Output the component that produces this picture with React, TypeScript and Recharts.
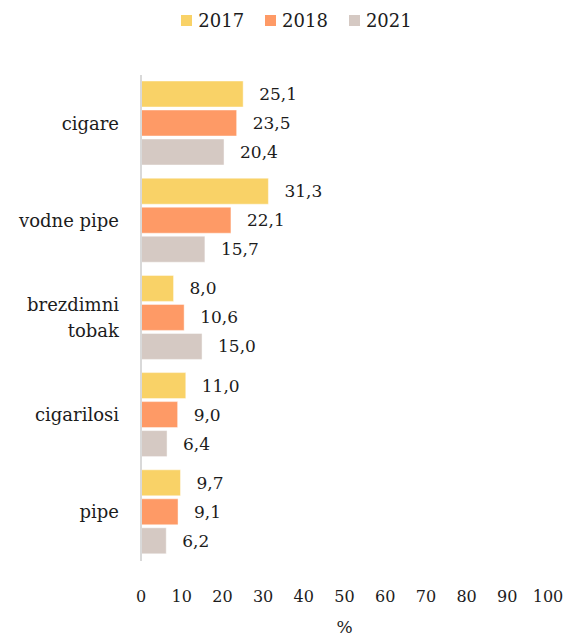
import { BarChart, Bar, XAxis, YAxis, Legend, LabelList, Label } from 'recharts';

const categories = ['cigare', 'vodne pipe', 'brezdimni tobak', 'cigarilosi', 'pipe'];
const values2017 = [25.1, 31.3, 8.0, 11.0, 9.7];
const values2018 = [23.5, 22.1, 10.6, 9.0, 9.1];
const values2021 = [20.4, 15.7, 15.0, 6.4, 6.2];
const xTicks = [0, 10, 20, 30, 40, 50, 60, 70, 80, 90, 100];

const seriesInfo = [
  { key: 'y2017', name: '2017', color: '#F9D267' },
  { key: 'y2018', name: '2018', color: '#FE9A66' },
  { key: 'y2021', name: '2021', color: '#D5C9C3' },
];

const data = categories.map((name, i) => ({
  name,
  y2017: values2017[i],
  y2018: values2018[i],
  y2021: values2021[i],
}));

const FONT = '"DejaVu Serif", "Liberation Serif", serif';
const TEXT = '#1c1c1c';

const fmt = (v: any) => Number(v).toFixed(1).replace('.', ',');

// category names, wrapped on the space for the long one
function CategoryTick({ x, y, payload }: any) {
  const label: string = payload.value;
  const lines = label === 'brezdimni tobak' ? ['brezdimni', 'tobak'] : [label];
  const lh = 26;
  const start = -((lines.length - 1) * lh) / 2;
  return (
    <text x={x} y={y} textAnchor="end" fill={TEXT} fontSize={18} fontFamily={FONT}>
      {lines.map((l, i) => (
        <tspan key={l} x={x} dy={i === 0 ? start + 6 : lh}>
          {l}
        </tspan>
      ))}
    </text>
  );
}

function LegendContent() {
  return (
    <div
      style={{
        display: 'flex',
        justifyContent: 'center',
        paddingLeft: 48,
        height: 67,
        fontFamily: FONT,
        fontSize: 18,
        color: TEXT,
      }}
    >
      {seriesInfo.map((s) => (
        <div key={s.key} style={{ display: 'flex', alignItems: 'center', height: 24, marginRight: 21 }}>
          <span style={{ width: 11, height: 11, background: s.color, marginRight: 6, display: 'inline-block' }} />
          <span>{s.name}</span>
        </div>
      ))}
    </div>
  );
}

export default function App() {
  return (
    <div style={{ position: 'absolute', left: 0, top: 0, width: 566, height: 637, background: '#fff' }}>
      <BarChart
        width={566}
        height={637}
        data={data}
        layout="vertical"
        margin={{ top: 8, right: 18, left: 0, bottom: 0 }}
        barCategoryGap={6}
        barGap={3}
      >
        <Legend
          verticalAlign="top"
          content={<LegendContent />}
          wrapperStyle={{ left: 0, width: 566 }}
        />
        <XAxis
          type="number"
          domain={[0, 100]}
          ticks={xTicks}
          axisLine={false}
          tickLine={false}
          tickSize={0}
          tickMargin={30}
          height={76}
          tick={{ fill: TEXT, fontSize: 16, fontFamily: FONT }}
        >
          <Label value="%" position="insideBottom" offset={4} fill={TEXT} fontSize={17} fontFamily={FONT} />
        </XAxis>
        <YAxis
          type="category"
          dataKey="name"
          width={141}
          tickLine={false}
          tickSize={0}
          tickMargin={22}
          axisLine={{ stroke: '#d9d9d9', strokeWidth: 2 }}
          tick={<CategoryTick />}
        />
        {seriesInfo.map((s) => (
          <Bar
            key={s.key}
            dataKey={s.key}
            name={s.name}
            fill={s.color}
            stroke="rgba(255,255,255,0.45)"
            strokeWidth={1}
            isAnimationActive={false}
          >
            <LabelList
              dataKey={s.key}
              position="right"
              offset={16}
              formatter={fmt}
              fill={TEXT}
              fontSize={17}
              fontFamily={FONT}
            />
          </Bar>
        ))}
      </BarChart>
    </div>
  );
}
